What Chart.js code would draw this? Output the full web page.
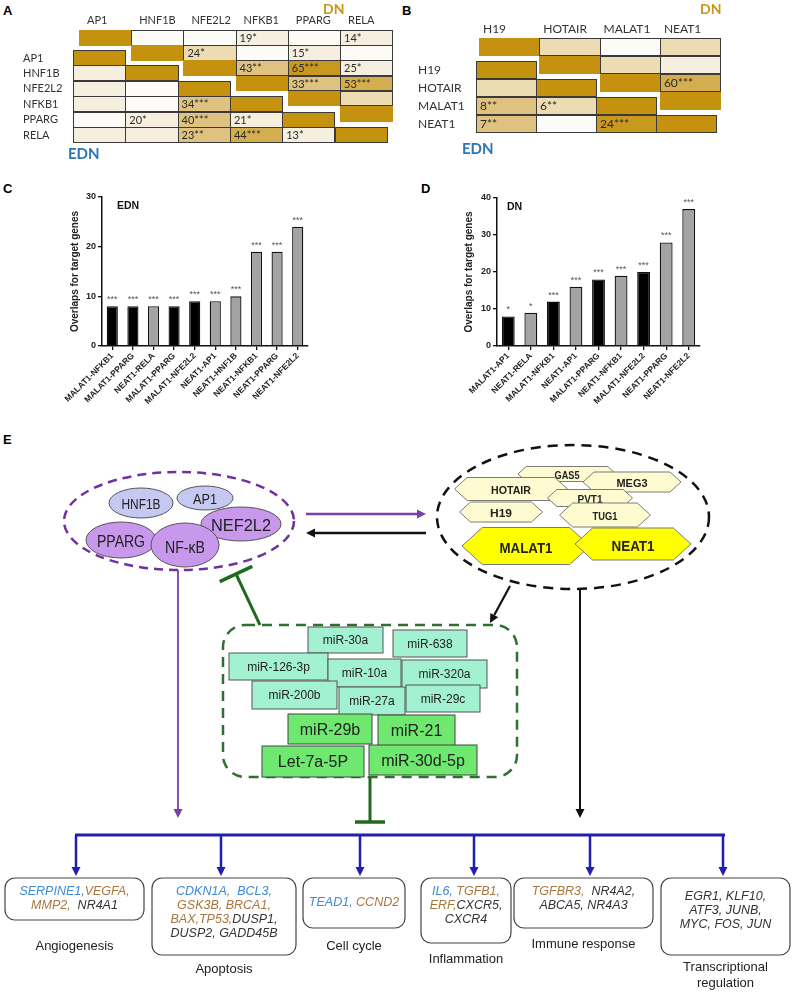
<!DOCTYPE html>
<html>
<head>
<meta charset="utf-8">
<script src="https://cdn.jsdelivr.net/npm/chart.js@4.4.1/dist/chart.umd.min.js"></script>
<style>
    body { margin: 0; background: #fff; }
    #page { position: relative; width: 794px; height: 992px; overflow: hidden; font-family: 'Liberation Sans', Arial, sans-serif; }
    .letter { position: absolute; font: bold 13px 'Liberation Sans', Arial, sans-serif; color: #000; }
    .cell { position: absolute; box-sizing: border-box; border: 1px solid #3a3a3a; font-family: Lato, sans-serif; color: #2a2a2a; padding-left: 3px; white-space: nowrap; }
    .rowlab, .collab { position: absolute; font-family: Lato, sans-serif; color: #333; white-space: nowrap; }
    .tag { position: absolute; font-family: Lato, sans-serif; font-weight: bold; line-height: 17px; }
    .inlab { position: absolute; font: bold 10.5px 'Liberation Sans', Arial, sans-serif; color: #111; }
    canvas { position: absolute; }
    svg { position: absolute; left: 0; top: 0; }
</style>
</head>
<body>
<div id="page">
    <div class="letter" style="left:3px;top:3px">A</div>
    <div class="letter" style="left:402px;top:3px">B</div>
    <div class="letter" style="left:3px;top:181px">C</div>
    <div class="letter" style="left:421px;top:181px">D</div>
    <div class="letter" style="left:3px;top:432px">E</div>

    <canvas id="ednChart" width="275" height="230" style="left:40px;top:185px"></canvas>
    <canvas id="dnChart" width="277" height="230" style="left:430px;top:185px"></canvas>
    <div class="inlab" style="left:117px;top:199px">EDN</div>
    <div class="inlab" style="left:507px;top:200px">DN</div>

    <svg id="diagram" width="794" height="992" viewBox="0 0 794 992"></svg>
</div>

<script>
// Панель A: перекрытия между факторами транскрипции (верх - DN, низ - EDN)
const tfGenes = ['AP1', 'HNF1B', 'NFE2L2', 'NFKB1', 'PPARG', 'RELA'];
const tfDnText = [
    ['', '', '', '19*', '', '14*'],
    ['', '', '24*', '', '15*', ''],
    ['', '', '', '43**', '65***', '25*'],
    ['', '', '', '', '33***', '53***'],
    ['', '', '', '', '', ''],
    ['', '', '', '', '', '']
];
const tfDnShade = [
    [0, 0, 0, 1, 0, 1],
    [0, 0, 2, 0, 1, 0],
    [0, 0, 0, 3, 5, 1],
    [0, 0, 0, 0, 3, 4],
    [0, 0, 0, 0, 0, 2],
    [0, 0, 0, 0, 0, 0]
];
const tfEdnText = [
    ['', '', '', '', '', ''],
    ['', '', '', '', '', ''],
    ['', '', '', '', '', ''],
    ['', '', '34***', '', '', ''],
    ['', '20*', '40***', '21*', '', ''],
    ['', '', '23**', '44***', '13*', '']
];
const tfEdnShade = [
    [0, 0, 0, 0, 0, 0],
    [1, 0, 0, 0, 0, 0],
    [1, 0, 0, 0, 0, 0],
    [1, 0, 3, 0, 0, 0],
    [0, 1, 3, 1, 0, 0],
    [1, 1, 3, 4, 1, 0]
];

// Панель B: перекрытия между lncRNA
const lncGenes = ['H19', 'HOTAIR', 'MALAT1', 'NEAT1'];
const lncDnText = [
    ['', '', '', ''],
    ['', '', '', ''],
    ['', '', '', '60***'],
    ['', '', '', '']
];
const lncDnShade = [
    [0, 2, 0, 2],
    [0, 0, 2, 1],
    [0, 0, 0, 4],
    [0, 0, 0, 0]
];
const lncEdnText = [
    ['', '', '', ''],
    ['', '', '', ''],
    ['8**', '6**', '', ''],
    ['7**', '', '24***', '']
];
const lncEdnShade = [
    [0, 0, 0, 0],
    [2, 0, 0, 0],
    [3, 2, 0, 0],
    [3, 0, 5, 0]
];

// Панель C: EDN
const ednPairs = ['MALAT1-NFKB1', 'MALAT1-PPARG', 'NEAT1-RELA', 'MALAT1-PPARG', 'MALAT1-NFE2L2',
                  'NEAT1-AP1', 'NEAT1-HNF1B', 'NEAT1-NFKB1', 'NEAT1-PPARG', 'NEAT1-NFE2L2'];
const ednOverlaps = [8, 8, 8, 8, 9, 9, 10, 19, 19, 24];
const ednStars = ['***', '***', '***', '***', '***', '***', '***', '***', '***', '***'];
const ednTicks = [0, 10, 20, 30];

// Панель D: DN
const dnPairs = ['MALAT1-AP1', 'NEAT1-RELA', 'MALAT1-NFKB1', 'NEAT1-AP1', 'MALAT1-PPARG',
                 'NEAT1-NFKB1', 'MALAT1-NFE2L2', 'NEAT1-PPARG', 'NEAT1-NFE2L2'];
const dnOverlaps = [8, 9, 12, 16, 18, 19, 20, 28, 37];
const dnStars = ['*', '*', '***', '***', '***', '***', '***', '***', '***'];
const dnTicks = [0, 10, 20, 30, 40];

// Цвета
const SHADES = ['#fcfbf8', '#f6efdf', '#eddcb2', '#dfc27f', '#d4ad4e', '#c9981f'];
const DIAG = '#c4920f';
const GOLD_TEXT = '#c9961a';
const BLUE_TEXT = '#2e75b6';

const page = document.getElementById('page');

function addDiv(cls, text, css) {
    const d = document.createElement('div');
    d.className = cls;
    d.textContent = text;
    Object.assign(d.style, css);
    page.appendChild(d);
    return d;
}

// Ступенчатая матрица: upper=true -> ячейки j>=i
function drawGrid(texts, shades, g, upper) {
    const n = texts.length;
    for (let i = 0; i < n; i++) {
        for (let j = 0; j < n; j++) {
            if (upper ? j < i : j > i) continue;
            const diag = i === j;
            const css = {
                left: (g.x + j * g.w) + 'px',
                top: (g.y + i * g.step) + 'px',
                width: (g.w + 1) + 'px',
                height: (g.h + 1) + 'px',
                lineHeight: (g.h - 1) + 'px',
                fontSize: g.fs + 'px',
                background: diag ? DIAG : SHADES[shades[i][j]]
            };
            if (diag && upper) css.border = 'none';
            addDiv('cell', diag ? '' : texts[i][j], css);
        }
    }
}

function drawPanel(genes, dnText, dnShade, ednText, ednShade, p) {
    drawGrid(dnText, dnShade, p.dn, true);
    drawGrid(ednText, ednShade, p.edn, false);
    genes.forEach((g, i) => {
        addDiv('collab', g, { left: (p.dn.x + i * p.dn.w + p.colOff) + 'px', top: p.colY + 'px', fontSize: p.fs + 'px' });
        addDiv('rowlab', g, { left: p.rowX + 'px', top: (p.edn.y + i * p.edn.step + p.edn.h / 2 - p.fs * 0.62) + 'px', fontSize: p.fs + 'px' });
    });
    addDiv('tag', 'DN', { left: p.dnTag[0] + 'px', top: p.dnTag[1] + 'px', fontSize: '14px', color: GOLD_TEXT });
    addDiv('tag', 'EDN', { left: p.ednTag[0] + 'px', top: p.ednTag[1] + 'px', fontSize: '15px', color: BLUE_TEXT });
}

drawPanel(tfGenes, tfDnText, tfDnShade, tfEdnText, tfEdnShade, {
    dn: { x: 79, y: 30, w: 52.2, h: 14.5, step: 15.2, fs: 11 },
    edn: { x: 73, y: 50, w: 52.3, h: 15, step: 15.4, fs: 11 },
    colOff: 8, colY: 13, rowX: 23, fs: 11,
    dnTag: [323, 0], ednTag: [68, 145]
});

drawPanel(lncGenes, lncDnText, lncDnShade, lncEdnText, lncEdnShade, {
    dn: { x: 479, y: 38, w: 60.3, h: 17, step: 18, fs: 12 },
    edn: { x: 476, y: 61, w: 60, h: 17, step: 17.9, fs: 12 },
    colOff: 4, colY: 21, rowX: 418, fs: 12,
    dnTag: [700, 0], ednTag: [462, 140]
});

// Звёздочки над столбцами
function starsPlugin(stars) {
    return {
        id: 'stars',
        afterDatasetsDraw(chart) {
            const ctx = chart.ctx;
            const meta = chart.getDatasetMeta(0);
            ctx.save();
            ctx.font = '9px "Liberation Sans", Arial, sans-serif';
            ctx.fillStyle = '#555';
            ctx.textAlign = 'center';
            ctx.textBaseline = 'alphabetic';
            meta.data.forEach((bar, i) => ctx.fillText(stars[i], bar.x, bar.y - 4));
            ctx.restore();
        }
    };
}

function makeBarChart(id, labels, values, stars, ticks, opt) {
    const ctx = document.getElementById(id).getContext('2d');
    const axisFont = { family: "'Liberation Sans', Arial, sans-serif", size: 9, weight: 'bold' };
    return new Chart(ctx, {
        type: 'bar',
        data: {
            labels: labels,
            datasets: [{
                data: values,
                backgroundColor: labels.map(l => l.startsWith('MALAT1') ? '#000000' : '#a3a3a3'),
                borderColor: '#111',
                borderWidth: 1.3,
                barPercentage: opt.barPct,
                categoryPercentage: 1
            }]
        },
        options: {
            responsive: false,
            animation: false,
            devicePixelRatio: 1,
            layout: { padding: { top: opt.top, right: 7, left: 0, bottom: 0 } },
            plugins: { legend: { display: false }, tooltip: { enabled: false } },
            scales: {
                x: {
                    grid: { drawOnChartArea: false, offset: false, tickLength: 4, color: '#111', lineWidth: 1.3 },
                    border: { color: '#111', width: 1.5 },
                    ticks: {
                        autoSkip: false, minRotation: 45, maxRotation: 45, padding: 1,
                        color: '#222', font: { family: axisFont.family, size: 8.5, weight: 'bold' }
                    },
                    afterFit: s => { s.height = opt.xh; }
                },
                y: {
                    min: ticks[0],
                    max: ticks[ticks.length - 1],
                    afterBuildTicks: s => { s.ticks = ticks.map(v => ({ value: v })); },
                    grid: { drawOnChartArea: false, tickLength: 4, color: '#111', lineWidth: 1.3 },
                    border: { color: '#111', width: 1.5 },
                    ticks: { color: '#222', padding: 2, font: axisFont },
                    title: {
                        display: true,
                        text: 'Overlaps for target genes',
                        color: '#222',
                        font: { family: axisFont.family, size: 10, weight: 'bold' },
                        padding: { top: opt.titlePad, bottom: 0 }
                    },
                    afterFit: s => { s.width = opt.yw; }
                }
            }
        },
        plugins: [starsPlugin(stars)]
    });
}

makeBarChart('ednChart', ednPairs, ednOverlaps, ednStars, ednTicks,
    { top: 12, xh: 69, yw: 62, titlePad: 29, barPct: 0.54 });
makeBarChart('dnChart', dnPairs, dnOverlaps, dnStars, dnTicks,
    { top: 13, xh: 69, yw: 67, titlePad: 33, barPct: 0.57 });

// Панель E: схема
const SANS = "'Liberation Sans',Arial,sans-serif";
const svg = [];

function ellipse(cx, cy, rx, ry, fill, stroke, sw, dash) {
    svg.push(`<ellipse cx="${cx}" cy="${cy}" rx="${rx}" ry="${ry}" fill="${fill}" stroke="${stroke}" stroke-width="${sw}"${dash ? ` stroke-dasharray="${dash}"` : ''}/>`);
}
function text(x, y, s, size, opts = {}) {
    const weight = opts.bold ? 'bold' : 'normal';
    const fill = opts.fill || '#222';
    const len = opts.len ? ` textLength="${opts.len}" lengthAdjust="spacingAndGlyphs"` : '';
    svg.push(`<text x="${x}" y="${y}" font-family="${SANS}" font-size="${size}" font-weight="${weight}" fill="${fill}" text-anchor="middle" dominant-baseline="central"${len}>${s}</text>`);
}
function hexagon(cx, cy, w, h, fill, label, fs, len) {
    const x0 = cx - w / 2, x1 = cx + w / 2, y0 = cy - h / 2, y1 = cy + h / 2, d = h * 0.55;
    svg.push(`<polygon points="${x0},${cy} ${x0 + d},${y0} ${x1 - d},${y0} ${x1},${cy} ${x1 - d},${y1} ${x0 + d},${y1}" fill="${fill}" stroke="#7a7a7a" stroke-width="1"/>`);
    text(cx, cy + 1, label, fs, { bold: true, len: len });
}
function rect(x, y, w, h, fill, stroke, sw, rx, dash) {
    svg.push(`<rect x="${x}" y="${y}" width="${w}" height="${h}" rx="${rx || 0}" fill="${fill}" stroke="${stroke}" stroke-width="${sw}"${dash ? ` stroke-dasharray="${dash}"` : ''}/>`);
}
function line(x1, y1, x2, y2, color, w) {
    svg.push(`<line x1="${x1}" y1="${y1}" x2="${x2}" y2="${y2}" stroke="${color}" stroke-width="${w}"/>`);
}
function arrow(x1, y1, x2, y2, color, w, hl) {
    const a = Math.atan2(y2 - y1, x2 - x1);
    const hw = hl * 0.5;
    const bx = x2 - hl * Math.cos(a), by = y2 - hl * Math.sin(a);
    line(x1, y1, bx, by, color, w);
    svg.push(`<polygon points="${x2},${y2} ${bx + hw * Math.sin(a)},${by - hw * Math.cos(a)} ${bx - hw * Math.sin(a)},${by + hw * Math.cos(a)}" fill="${color}"/>`);
}
function inhibit(x1, y1, x2, y2, color, w, bar) {
    const a = Math.atan2(y2 - y1, x2 - x1);
    line(x1, y1, x2, y2, color, w);
    const dx = bar / 2 * Math.sin(a), dy = bar / 2 * Math.cos(a);
    line(x2 - dx, y2 + dy, x2 + dx, y2 - dy, color, w + 0.5);
}

// Факторы транскрипции
ellipse(179, 521, 115, 49, 'none', '#7030a0', 2.5, '9,6');
ellipse(141, 503, 32, 15, '#c5c8f0', '#555', 1);
ellipse(205, 498, 28, 12, '#c5c8f0', '#555', 1);
ellipse(241, 524, 40, 17, '#c898ec', '#555', 1);
ellipse(121, 540, 35, 18, '#c898ec', '#555', 1);
ellipse(185, 545, 34, 22, '#c898ec', '#555', 1);
text(141, 504, 'HNF1B', 14, { len: 39 });
text(205, 499, 'AP1', 14, { len: 24 });
text(241, 525, 'NEF2L2', 17, { len: 60 });
text(121, 541, 'PPARG', 17, { len: 48 });
text(185, 547, 'NF-\u03baB', 16, { len: 40 });

// lncRNA
ellipse(573, 517, 136, 72, 'none', '#111', 2.5, '10,7');
hexagon(567, 474, 98, 15, '#fdfbcf', 'GAS5', 10.5, 25);
hexagon(511, 489, 113, 23, '#fdfbcf', 'HOTAIR', 11, 40);
hexagon(632, 482, 98, 20, '#fdfbcf', 'MEG3', 11, 31);
hexagon(590, 498, 85, 17, '#fdfbcf', 'PVT1', 10.5, 25);
hexagon(501, 512, 83, 20, '#fdfbcf', 'H19', 11, 22);
hexagon(605, 515, 91, 24, '#fdfbcf', 'TUG1', 11, 25);
hexagon(526, 546, 128, 37, '#ffff00', 'MALAT1', 15, 53);
hexagon(633, 544, 116, 32, '#ffff00', 'NEAT1', 15, 43);

// Стрелки между блоками
arrow(306, 514, 426, 514, '#7b3fa8', 2.5, 9);
arrow(426, 533, 306, 533, '#111', 2.5, 9);
arrow(178, 570, 178, 818, '#7b3fa8', 1.8, 9);
arrow(580, 590, 580, 818, '#111', 2, 9);
arrow(510, 586, 490, 623, '#111', 2.2, 9);
inhibit(260, 625, 236, 574, '#1e6b1e', 3, 36);

// miRNA
rect(223, 625, 294, 152, 'none', '#2f6f2f', 2.5, 22, '10,7');
const LIGHT = '#a2f2d2', GREEN = '#6ee86e';
[
    [308, 627, 75, 26, 'miR-30a'],
    [393, 630, 74, 27, 'miR-638'],
    [229, 653, 99, 27, 'miR-126-3p'],
    [328, 659, 73, 28, 'miR-10a'],
    [402, 660, 85, 28, 'miR-320a'],
    [252, 681, 85, 28, 'miR-200b'],
    [339, 687, 66, 28, 'miR-27a'],
    [406, 685, 74, 27, 'miR-29c']
].forEach(([x, y, w, h, s]) => {
    rect(x, y, w, h, LIGHT, '#555', 1);
    text(x + w / 2, y + h / 2, s, 12);
});
[
    [288, 714, 84, 30, 'miR-29b'],
    [378, 715, 77, 31, 'miR-21'],
    [262, 746, 102, 31, 'Let-7a-5P'],
    [369, 745, 108, 30, 'miR-30d-5p']
].forEach(([x, y, w, h, s]) => {
    rect(x, y, w, h, GREEN, '#444', 1);
    text(x + w / 2, y + h / 2, s, 16);
});
inhibit(370, 777, 370, 822, '#1e6b1e', 3, 30);

// Целевые гены
const BLUE = '#1f1fb0';
line(75, 835, 725, 835, BLUE, 3);
[76, 221, 360, 474, 590, 723].forEach(x => arrow(x, 835, x, 876, BLUE, 2.5, 9));

const GB = '#3d8ad6', GR = '#a8763e', GK = '#333';
const boxes = [
    { x: 5, w: 139, h: 42, lines: [[[GB, 'SERPINE1,'], [GR, 'VEGFA,']], [[GR, 'MMP2,'], [GK, '  NR4A1']]], cy: [891, 905],
      label: [['Angiogenesis', 945]] },
    { x: 152, w: 144, h: 77, lines: [[[GB, 'CDKN1A,  BCL3,']], [[GR, 'GSK3B, BRCA1,']], [[GR, 'BAX,TP53,'], [GK, 'DUSP1,']], [[GK, 'DUSP2, GADD45B']]],
      cy: [891, 905, 919, 933], label: [['Apoptosis', 968]] },
    { x: 303, w: 102, h: 50, lines: [[[GB, 'TEAD1,'], [GR, ' CCND2']]], cy: [902], label: [['Cell cycle', 945]] },
    { x: 421, w: 90, h: 65, lines: [[[GB, 'IL6,'], [GR, ' TGFB1,']], [[GR, 'ERF,'], [GK, 'CXCR5,']], [[GK, 'CXCR4']]],
      cy: [891, 905, 919], label: [['Inflammation', 958]] },
    { x: 514, w: 139, h: 50, lines: [[[GR, 'TGFBR3,'], [GK, '  NR4A2,']], [[GK, 'ABCA5, NR4A3']]], cy: [891, 905],
      label: [['Immune response', 943]] },
    { x: 661, w: 129, h: 77, lines: [[[GK, 'EGR1, KLF10,']], [[GK, 'ATF3, JUNB,']], [[GK, 'MYC, FOS, JUN']]], cy: [896, 910, 924],
      label: [['Transcriptional', 966], ['regulation', 982]] }
];
boxes.forEach(b => {
    rect(b.x, 878, b.w, b.h, '#fff', '#444', 1.2, 10);
    const cx = b.x + b.w / 2;
    b.lines.forEach((parts, k) => {
        const spans = parts.map(([c, s]) => `<tspan fill="${c}">${s}</tspan>`).join('');
        svg.push(`<text x="${cx}" y="${b.cy[k]}" font-family="${SANS}" font-size="12.5" font-style="italic" text-anchor="middle" dominant-baseline="central" style="white-space:pre">${spans}</text>`);
    });
    b.label.forEach(([s, y]) => text(cx, y, s, 13, { fill: '#222' }));
});

document.getElementById('diagram').innerHTML = svg.join('');
</script>
</body>
</html>
